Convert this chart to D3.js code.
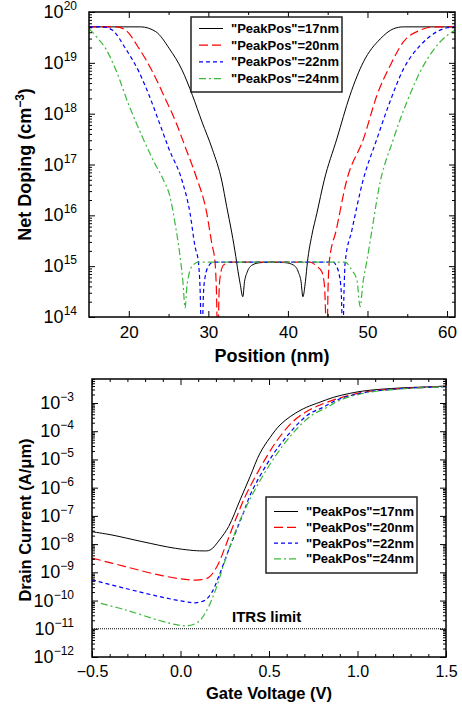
<!DOCTYPE html>
<html>
<head>
<meta charset="utf-8">
<script src="https://cdn.jsdelivr.net/npm/d3@7"></script>
<style>
  body { margin: 0; background: #fff; }
  svg text { font-family: "Liberation Sans", Arial, Helvetica, sans-serif; fill: #000; }
</style>
</head>
<body>
<div id="chart-area"></div>
<script>
// ---- net doping (cm^-3) vs position (nm), one pair of arrays per PeakPos
const pos17 = [15, 21.5, 23.4, 25.1, 26.7, 28.0, 29.2, 30.5, 31.7, 32.3, 32.95, 33.45, 33.65, 34.0, 34.33, 34.55, 34.85, 35.5, 36.5, 38.1,
  39.7, 40.7, 41.35, 41.65, 41.88, 42.2, 42.46, 43.0, 43.64, 44.56, 46.15, 47.8, 49.5, 51.6, 53.3, 54.5, 61]
const dop17 = [5.1e19, 5.1e19, 4.1e19, 1.9e19, 7.2e18, 2.3e18, 6.9e17, 2.0e17, 4.7e16, 1.5e16, 4.5e15, 1.55e15, 9.5e14, 4.5e14, 2.5e14, 5.0e14, 7.4e14, 1.05e15, 1.17e15, 1.2e15,
  1.17e15, 1.05e15, 7.4e14, 5.0e14, 2.5e14, 5.0e14, 1.23e15, 4.0e15, 1.1e16, 4.9e16, 3.2e17, 2.3e18, 1.05e19, 2.95e19, 4.7e19, 5.1e19, 5.1e19]

const pos20 = [15, 18.4, 19.6, 21.3, 23.0, 24.6, 25.9, 27.2, 28.4, 29.8, 30.43, 30.85, 31.0, 31.19, 31.35, 31.48, 31.9, 32.74, 38.1,
  42.8, 43.6, 44.26, 44.6, 44.9, 45.05, 45.2, 46.07, 47.39, 49.5, 51.19, 52.86, 54.53, 56.63, 58.3, 61]
const dop20 = [5.1e19, 5.1e19, 4.4e19, 1.9e19, 6.6e18, 1.95e18, 6.9e17, 2.0e17, 6.2e16, 1.1e16, 2.8e15, 1.15e15, 4.0e14, 3e13, 3.2e14, 6.2e14, 1.05e15, 1.2e15, 1.2e15,
  1.2e15, 1.0e15, 7.8e14, 4.0e14, 3e13, 4.0e14, 1.23e15, 5.1e15, 4.9e16, 3.2e17, 2.3e18, 8.9e18, 2.6e19, 4.4e19, 5.1e19, 5.1e19]

const pos22 = [15, 16.7, 17.93, 19.6, 21.29, 22.55, 23.8, 25.06, 26.7, 27.7, 28.33, 28.75, 28.95, 29.17, 29.4, 29.6, 30.0, 30.63, 38.1,
  45.73, 46.1, 46.36, 46.7, 46.9, 47.05, 47.2, 48.04, 49.4, 51.19, 52.65, 54.53, 56.63, 58.73, 60.0, 61]
const dop22 = [5.1e19, 5.1e19, 4.4e19, 1.9e19, 6.6e18, 2.3e18, 6.9e17, 2.0e17, 4.8e16, 1.1e16, 2.4e15, 1.2e15, 4.0e14, 3e13, 3.2e14, 6.2e14, 9.8e14, 1.2e15, 1.2e15,
  1.2e15, 1.0e15, 7.8e14, 3.2e14, 3e13, 3.2e14, 1.2e15, 5.1e15, 4.6e16, 3.2e17, 1.45e18, 7.6e18, 2.2e19, 4.1e19, 4.9e19, 5.1e19]

const pos24 = [15, 15.9, 17.1, 18.4, 20.03, 21.7, 23.2, 24.4, 25.19, 25.82, 26.45, 26.8, 27.08, 27.3, 27.5, 27.92, 28.75, 38.1,
  47.2, 48.04, 48.67, 49.08, 49.42, 49.9, 50.56, 51.4, 53.27, 54.95, 57.05, 59.15, 61]
const dop24 = [4.7e19, 3.3e19, 1.9e19, 7.1e18, 1.45e18, 3.5e17, 1.1e17, 4.8e16, 2.3e16, 6.9e15, 1.55e15, 5.0e14, 1.5e14, 4.0e14, 6.2e14, 9.8e14, 1.2e15, 1.2e15,
  1.2e15, 8.3e14, 5.4e14, 1.6e14, 4.6e14, 1.2e15, 5.1e15, 3.2e16, 3.2e17, 1.7e18, 8.9e18, 2.6e19, 4.4e19]

// ---- drain current (A/um) vs gate voltage (V)
const vg17 = [-0.5, -0.387, -0.218, -0.029, 0.121, 0.168, 0.22, 0.272, 0.336, 0.393, 0.449, 0.506, 0.562, 0.62, 0.675, 0.713, 0.788, 0.863, 0.958, 1.052, 1.24, 1.43, 1.5]
const id17 = [2.75e-8, 2.1e-8, 1.23e-8, 7.1e-9, 5.75e-9, 6.2e-9, 1.4e-8, 4.2e-8, 3.6e-7, 2.45e-6, 1.66e-5, 6.0e-5, 1.66e-4, 3.3e-4, 5.4e-4, 7.1e-4, 1.07e-3, 1.58e-3, 2.2e-3, 2.75e-3, 3.4e-3, 3.8e-3, 4.0e-3]

const vg20 = [-0.5, -0.312, -0.123, 0.027, 0.103, 0.159, 0.206, 0.253, 0.31, 0.374, 0.487, 0.562, 0.637, 0.713, 0.788, 0.9, 1.05, 1.24, 1.5]
const id20 = [3.2e-9, 1.6e-9, 8.1e-10, 5.6e-10, 5.4e-10, 6.6e-10, 1.6e-9, 8.1e-9, 7.1e-8, 6.3e-7, 1.26e-5, 6.5e-5, 2.25e-4, 5.0e-4, 8.5e-4, 1.5e-3, 2.5e-3, 3.2e-3, 3.9e-3]

const vg22 = [-0.5, -0.312, -0.123, 0.027, 0.084, 0.14, 0.178, 0.216, 0.272, 0.347, 0.402, 0.515, 0.6, 0.666, 0.73, 0.807, 0.9, 1.05, 1.24, 1.5]
const id22 = [5.4e-10, 2.7e-10, 1.4e-10, 9.1e-11, 8.3e-11, 1.05e-10, 2.0e-10, 7.1e-10, 6.2e-9, 9.3e-8, 7.1e-7, 1.26e-5, 6.5e-5, 1.9e-4, 4.2e-4, 7.1e-4, 1.4e-3, 2.4e-3, 3.2e-3, 3.8e-3]

const vg24 = [-0.45, -0.312, -0.123, -0.01, 0.046, 0.103, 0.15, 0.197, 0.253, 0.329, 0.42, 0.534, 0.619, 0.684, 0.75, 0.826, 0.9, 1.05, 1.24, 1.5]
const id24 = [7.9e-11, 4.7e-11, 2.0e-11, 1.35e-11, 1.3e-11, 1.8e-11, 4.7e-11, 2.3e-10, 2.75e-9, 5.5e-8, 8.3e-7, 1.26e-5, 6.5e-5, 1.8e-4, 4.0e-4, 6.9e-4, 1.26e-3, 2.3e-3, 3.1e-3, 3.8e-3]

const seriesLabels = ['"PeakPos"=17nm', '"PeakPos"=20nm', '"PeakPos"=22nm', '"PeakPos"=24nm']
const itrsLimit = 1e-11

// ticks
const posTicks = [20, 30, 40, 50, 60]
const posMinorTicks = [25, 35, 45, 55]
const dopDecades = [14, 15, 16, 17, 18, 19, 20]
const vgTicks = [-0.5, 0.0, 0.5, 1.0, 1.5]
const vgMinorTicks = [-0.4, -0.3, -0.2, -0.1, 0.1, 0.2, 0.3, 0.4, 0.6, 0.7, 0.8, 0.9, 1.1, 1.2, 1.3, 1.4]
const idDecades = [-12, -11, -10, -9, -8, -7, -6, -5, -4, -3]

// line looks, one per series
const STYLES = [
  {color: "#000000", dash: null, width: 1},
  {color: "#ff0000", dash: "9,4", width: 1.2},
  {color: "#0000ff", dash: "4,3", width: 1.2},
  {color: "#3cb83c", dash: "7,3,2,3", width: 1.2}
]

const svg = d3.select("#chart-area").append("svg")
  .attr("width", 462)
  .attr("height", 706)

function makePanel(box, xDomain, yDomain, id) {
  const w = box.right - box.left
  const h = box.bottom - box.top
  const g = svg.append("g").attr("transform", `translate(${box.left}, ${box.top})`)
  g.append("clipPath").attr("id", id).append("rect").attr("width", w).attr("height", h)
  const x = d3.scaleLinear().domain(xDomain).range([0, w])
  const y = d3.scaleLog().domain(yDomain).range([h, 0])
  return {g, x, y, w, h, id}
}

function logMinor(domain) {
  const out = []
  const lo = Math.floor(Math.log10(domain[0]))
  const hi = Math.ceil(Math.log10(domain[1]))
  for (let d = lo; d < hi; d++) {
    for (let m = 2; m < 10; m++) {
      const v = m * Math.pow(10, d)
      if (v > domain[0] && v < domain[1]) out.push(v)
    }
  }
  return out
}

function drawAxes(p, xMajor, xMinor, decades, xFmt, fontSize) {
  const yMajor = decades.map(d => Math.pow(10, d))
  const yMinor = logMinor(p.y.domain())
  const add = (axis, vals, size, tr, fmt) => {
    const a = p.g.append("g")
      .attr("transform", tr)
      .call(axis.tickValues(vals).tickSize(-size).tickSizeOuter(0).tickPadding(9).tickFormat(fmt || ""))
    a.select(".domain").remove()
    a.selectAll("line").attr("stroke", "#000")
    return a
  }
  const xb = add(d3.axisBottom(p.x), xMajor, 6, `translate(0, ${p.h})`, xFmt)
  add(d3.axisBottom(p.x), xMinor, 3, `translate(0, ${p.h})`)
  add(d3.axisTop(p.x), xMajor, 6, "translate(0, 0)")
  add(d3.axisTop(p.x), xMinor, 3, "translate(0, 0)")
  add(d3.axisLeft(p.y), yMajor, 6, "translate(0, 0)")
  add(d3.axisLeft(p.y), yMinor, 3, "translate(0, 0)")
  add(d3.axisRight(p.y), yMajor, 6, `translate(${p.w}, 0)`)
  add(d3.axisRight(p.y), yMinor, 3, `translate(${p.w}, 0)`)

  xb.selectAll("text")
    .attr("font-size", fontSize)
    .attr("font-family", null)
    .attr("fill", "#000")

  p.g.append("rect")
    .attr("width", p.w)
    .attr("height", p.h)
    .attr("fill", "none")
    .attr("stroke", "#000")
    .attr("stroke-width", 1.5)
}

function yLabels(p, decades, dx) {
  decades.forEach(d => {
    const t = p.g.append("text")
      .attr("x", dx)
      .attr("y", p.y(Math.pow(10, d)) + 6)
      .attr("text-anchor", "end")
      .attr("font-size", 18)
    t.append("tspan").text("10")
    t.append("tspan")
      .attr("dy", -8)
      .attr("font-size", 12)
      .text(d < 0 ? "\u2212" + Math.abs(d) : d)
  })
}

function drawLines(p, series, curve) {
  const line = d3.line()
    .x(d => p.x(d[0]))
    .y(d => p.y(d[1]))
    .curve(curve)
  const lines = p.g.append("g").attr("clip-path", `url(#${p.id})`)
  series.forEach((s, i) => {
    lines.append("path")
      .attr("d", line(s))
      .attr("fill", "none")
      .attr("stroke", STYLES[i].color)
      .attr("stroke-width", STYLES[i].width)
      .attr("stroke-dasharray", STYLES[i].dash)
  })
}

function legend(x0, y0, w, h, firstBase, rowStep) {
  const lg = svg.append("g").attr("transform", `translate(${x0}, ${y0})`)
  lg.append("rect")
    .attr("width", w)
    .attr("height", h)
    .attr("fill", "#fff")
    .attr("stroke", "#222")
    .attr("stroke-width", 1.5)
  seriesLabels.forEach((label, i) => {
    const yb = firstBase + i * rowStep
    lg.append("line")
      .attr("x1", 8).attr("x2", 32)
      .attr("y1", yb - 4.5).attr("y2", yb - 4.5)
      .attr("stroke", STYLES[i].color)
      .attr("stroke-width", STYLES[i].width)
      .attr("stroke-dasharray", STYLES[i].dash)
    lg.append("text")
      .attr("x", 40)
      .attr("y", yb)
      .attr("font-size", 13)
      .attr("font-weight", "bold")
      .text(label)
  })
}

// ---------- upper panel: net doping
const dopPanel = makePanel({left: 89, top: 12, right: 455, bottom: 317}, [15, 61], [1e14, 1e20], "clipTop")
drawLines(dopPanel, [d3.zip(pos17, dop17), d3.zip(pos20, dop20), d3.zip(pos22, dop22), d3.zip(pos24, dop24)], d3.curveMonotoneX)
drawAxes(dopPanel, posTicks, posMinorTicks, dopDecades, d3.format("d"), 17)
yLabels(dopPanel, dopDecades, -12)
legend(191, 17, 151, 75, 16, 16.7)

dopPanel.g.append("text")
  .attr("x", dopPanel.w / 2)
  .attr("y", 362 - 12)
  .attr("text-anchor", "middle")
  .attr("font-size", 18)
  .attr("font-weight", "bold")
  .text("Position (nm)")

const yTitleTop = svg.append("text")
  .attr("transform", "translate(31, 164.5) rotate(-90)")
  .attr("text-anchor", "middle")
  .attr("font-size", 18)
  .attr("font-weight", "bold")
yTitleTop.append("tspan").text("Net Doping (cm")
yTitleTop.append("tspan").attr("dy", -7).attr("font-size", 12).text("\u22123")
yTitleTop.append("tspan").attr("dy", 7).text(")")

// ---------- lower panel: drain current
const idPanel = makePanel({left: 92, top: 379, right: 446, bottom: 657}, [-0.5, 1.5], [1e-12, Math.pow(10, -2.15)], "clipBot")

idPanel.g.append("line")
  .attr("x1", 0).attr("x2", idPanel.w)
  .attr("y1", idPanel.y(itrsLimit)).attr("y2", idPanel.y(itrsLimit))
  .attr("stroke", "#000")
  .attr("stroke-width", 1)
  .attr("stroke-dasharray", "1,1")
idPanel.g.append("text")
  .attr("x", 232 - 92)
  .attr("y", 622 - 379)
  .attr("font-size", 15)
  .attr("font-weight", "bold")
  .text("ITRS limit")

drawLines(idPanel, [d3.zip(vg17, id17), d3.zip(vg20, id20), d3.zip(vg22, id22), d3.zip(vg24, id24)], d3.curveCatmullRom.alpha(0.5))
drawAxes(idPanel, vgTicks, vgMinorTicks, idDecades, d3.format(".1f"), 16)
yLabels(idPanel, idDecades, -18)
legend(266, 497, 151, 76, 19, 15.8)

idPanel.g.append("text")
  .attr("x", idPanel.w / 2)
  .attr("y", 699 - 379)
  .attr("text-anchor", "middle")
  .attr("font-size", 16.5)
  .attr("font-weight", "bold")
  .text("Gate Voltage (V)")

svg.append("text")
  .attr("transform", "translate(31, 520) rotate(-90)")
  .attr("text-anchor", "middle")
  .attr("font-size", 16.5)
  .attr("font-weight", "bold")
  .text("Drain Current (A/\u03bcm)")
</script>
</body>
</html>
